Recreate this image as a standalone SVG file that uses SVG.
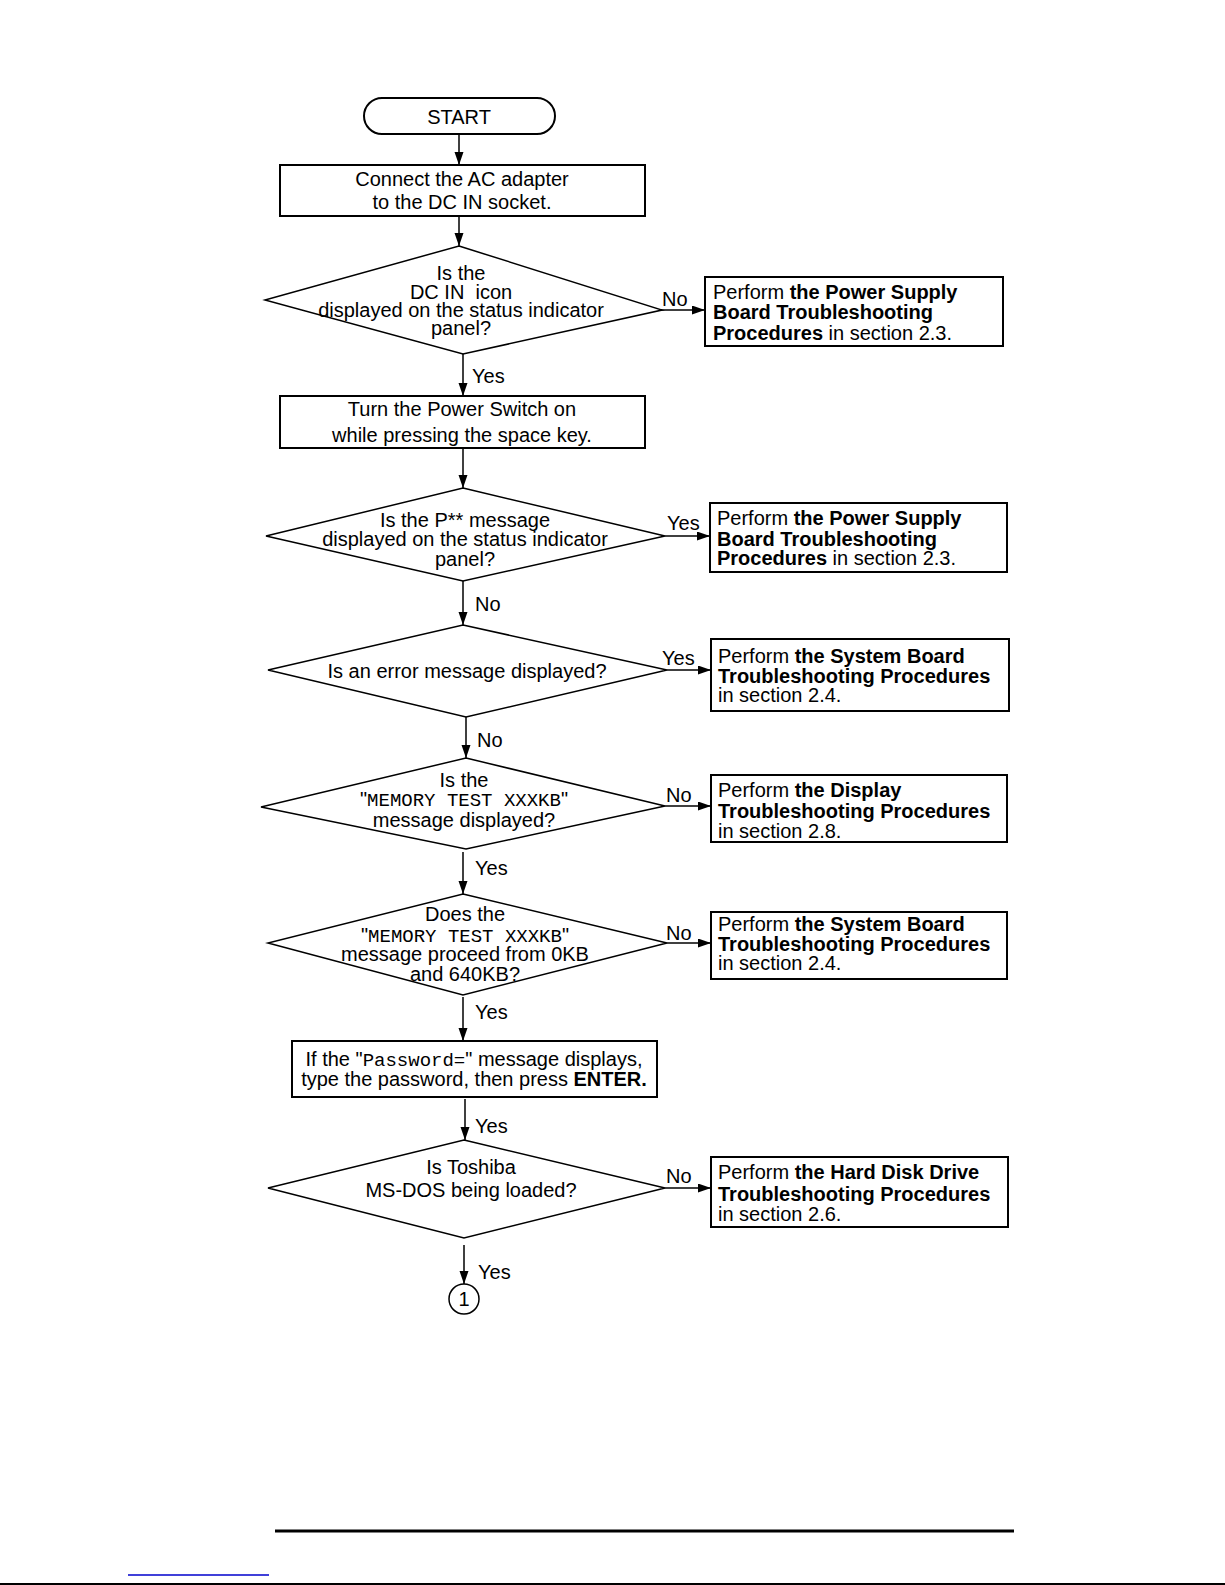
<svg xmlns="http://www.w3.org/2000/svg" width="1225" height="1585" viewBox="0 0 1225 1585">
<style>
text{font-family:"Liberation Sans",Arial,sans-serif;font-size:20px;fill:#000}
.c{text-anchor:middle}
.b{font-weight:bold}
.m{font-family:"Liberation Mono","Courier New",monospace;font-size:19px}
.box{fill:#fff;stroke:#000;stroke-width:2}
.dia{fill:#fff;stroke:#000;stroke-width:1.5}
.ln{stroke:#000;stroke-width:1.5;fill:none}
</style>
<defs>
<marker id="ah" markerUnits="userSpaceOnUse" markerWidth="14" markerHeight="10" refX="13" refY="4.5" orient="auto">
<path d="M0,0 L13,4.5 L0,9 z" fill="#000"/>
</marker>
</defs>
<rect width="1225" height="1585" fill="#fff"/>

<g id="connectors">
<line class="ln" x1="459" y1="134" x2="459" y2="165" marker-end="url(#ah)"/>
<line class="ln" x1="459" y1="216" x2="459" y2="246" marker-end="url(#ah)"/>
<line class="ln" x1="662" y1="310" x2="705" y2="310" marker-end="url(#ah)"/>
<line class="ln" x1="463" y1="354" x2="463" y2="396" marker-end="url(#ah)"/>
<line class="ln" x1="463" y1="448" x2="463" y2="488" marker-end="url(#ah)"/>
<line class="ln" x1="665" y1="536" x2="710" y2="536" marker-end="url(#ah)"/>
<line class="ln" x1="463" y1="581" x2="463" y2="625" marker-end="url(#ah)"/>
<line class="ln" x1="667" y1="670" x2="711" y2="670" marker-end="url(#ah)"/>
<line class="ln" x1="466" y1="717" x2="466" y2="758" marker-end="url(#ah)"/>
<line class="ln" x1="665" y1="806" x2="711" y2="806" marker-end="url(#ah)"/>
<line class="ln" x1="463" y1="852" x2="463" y2="894" marker-end="url(#ah)"/>
<line class="ln" x1="667" y1="943" x2="711" y2="943" marker-end="url(#ah)"/>
<line class="ln" x1="463" y1="997" x2="463" y2="1041" marker-end="url(#ah)"/>
<line class="ln" x1="465" y1="1099" x2="465" y2="1140" marker-end="url(#ah)"/>
<line class="ln" x1="665" y1="1188" x2="711" y2="1188" marker-end="url(#ah)"/>
<line class="ln" x1="464" y1="1245" x2="464" y2="1284" marker-end="url(#ah)"/>
<text x="662" y="306">No</text>
<text x="472" y="383">Yes</text>
<text x="667" y="530">Yes</text>
<text x="475" y="611">No</text>
<text x="662" y="665">Yes</text>
<text x="477" y="747">No</text>
<text x="666" y="802">No</text>
<text x="475" y="875">Yes</text>
<text x="666" y="940">No</text>
<text x="475" y="1019">Yes</text>
<text x="475" y="1133">Yes</text>
<text x="666" y="1183">No</text>
<text x="478" y="1279">Yes</text>
</g>

<g id="start">
<rect x="364" y="98" width="191" height="36" rx="18" class="box" stroke-width="1.5"/>
<text class="c" x="459" y="124">START</text>
</g>

<g id="connect">
<rect x="280" y="165" width="365" height="51" class="box"/>
<text class="c" x="462" y="186">Connect the AC adapter</text>
<text class="c" x="462" y="209">to the DC IN socket.</text>
</g>

<g id="q-dcin">
<polygon class="dia" points="459,246 662,310 463,354 265,300"/>
<text class="c" x="461" y="280">Is the</text>
<text class="c" x="461" y="299">DC IN&#160; icon</text>
<text class="c" x="461" y="317">displayed on the status indicator</text>
<text class="c" x="461" y="335">panel?</text>
</g>

<g id="r-power1">
<rect x="705" y="277" width="298" height="69" class="box"/>
<text x="713" y="299">Perform <tspan class="b">the Power Supply</tspan></text>
<text x="713" y="319" class="b">Board Troubleshooting</text>
<text x="713" y="340"><tspan class="b">Procedures</tspan> in section 2.3.</text>
</g>

<g id="power-on">
<rect x="280" y="396" width="365" height="52" class="box"/>
<text class="c" x="462" y="416">Turn the Power Switch on</text>
<text class="c" x="462" y="442">while pressing the space key.</text>
</g>

<g id="q-pmsg">
<polygon class="dia" points="463,488 665,536 463,581 266,536"/>
<text class="c" x="465" y="527">Is the P** message</text>
<text class="c" x="465" y="546">displayed on the status indicator</text>
<text class="c" x="465" y="566">panel?</text>
</g>

<g id="r-power2">
<rect x="710" y="503" width="297" height="69" class="box"/>
<text x="717" y="525">Perform <tspan class="b">the Power Supply</tspan></text>
<text x="717" y="546" class="b">Board Troubleshooting</text>
<text x="717" y="565"><tspan class="b">Procedures</tspan> in section 2.3.</text>
</g>

<g id="q-error">
<polygon class="dia" points="463,625 667,670 466,717 268,670"/>
<text class="c" x="467" y="678">Is an error message displayed?</text>
</g>

<g id="r-system1">
<rect x="711" y="639" width="298" height="72" class="box"/>
<text x="718" y="663">Perform <tspan class="b">the System Board</tspan></text>
<text x="718" y="683" class="b">Troubleshooting Procedures</text>
<text x="718" y="702">in section 2.4.</text>
</g>

<g id="q-memtest">
<polygon class="dia" points="466,758 665,806 466,849 261,807"/>
<text class="c" x="464" y="787">Is the</text>
<text class="c" x="464" y="806">"<tspan class="m">MEMORY TEST XXXKB</tspan>"</text>
<text class="c" x="464" y="827">message displayed?</text>
</g>

<g id="r-display">
<rect x="711" y="775" width="296" height="67" class="box"/>
<text x="718" y="797">Perform <tspan class="b">the Display</tspan></text>
<text x="718" y="818" class="b">Troubleshooting Procedures</text>
<text x="718" y="838">in section 2.8.</text>
</g>

<g id="q-proceed">
<polygon class="dia" points="463,894 667,943 463,995 268,943"/>
<text class="c" x="465" y="921">Does the</text>
<text class="c" x="465" y="942">"<tspan class="m">MEMORY TEST XXXKB</tspan>"</text>
<text class="c" x="465" y="961">message proceed from 0KB</text>
<text class="c" x="465" y="981">and 640KB?</text>
</g>

<g id="r-system2">
<rect x="711" y="912" width="296" height="67" class="box"/>
<text x="718" y="931">Perform <tspan class="b">the System Board</tspan></text>
<text x="718" y="951" class="b">Troubleshooting Procedures</text>
<text x="718" y="970">in section 2.4.</text>
</g>

<g id="password">
<rect x="292" y="1041" width="365" height="56" class="box"/>
<text class="c" x="474" y="1066">If the "<tspan class="m">Password=</tspan>" message displays,</text>
<text class="c" x="474" y="1086">type the password, then press <tspan class="b">ENTER.</tspan></text>
</g>

<g id="q-msdos">
<polygon class="dia" points="464,1140 665,1188 464,1238 268,1188"/>
<text class="c" x="471" y="1174">Is Toshiba</text>
<text class="c" x="471" y="1197">MS-DOS being loaded?</text>
</g>

<g id="r-hdd">
<rect x="711" y="1157" width="297" height="70" class="box"/>
<text x="718" y="1179">Perform <tspan class="b">the Hard Disk Drive</tspan></text>
<text x="718" y="1201" class="b">Troubleshooting Procedures</text>
<text x="718" y="1221">in section 2.6.</text>
</g>

<g id="connector-1">
<circle cx="464" cy="1299" r="15" fill="#fff" stroke="#000" stroke-width="1.5"/>
<text class="c" x="464" y="1306">1</text>
</g>

<line x1="275" y1="1531" x2="1014" y2="1531" stroke="#000" stroke-width="3"/>
<line x1="128" y1="1575" x2="269" y2="1575" stroke="#0000cc" stroke-width="1.5"/>
<line x1="0" y1="1584" x2="1225" y2="1584" stroke="#000" stroke-width="2"/>
</svg>
